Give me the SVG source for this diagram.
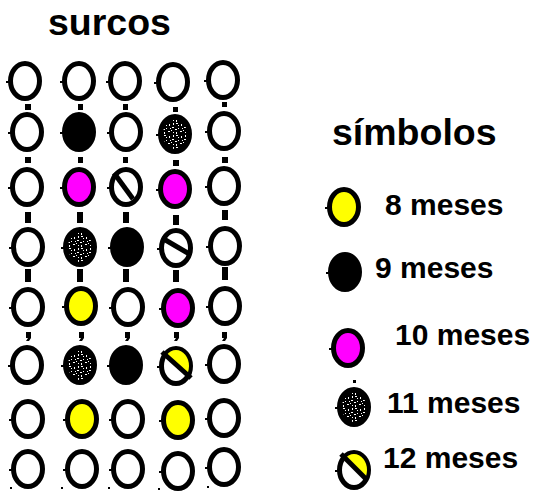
<svg xmlns="http://www.w3.org/2000/svg" xmlns:xlink="http://www.w3.org/1999/xlink" width="541" height="491" viewBox="0 0 541 491">
<style>
.t{font-family:"Liberation Sans",Arial,sans-serif;font-weight:bold;fill:#000}
.ttl{font-size:37.5px}
.lg{font-size:30px}
.cn{fill:#000}
.sl{stroke:#000;stroke-width:5;stroke-linecap:butt}
</style>
<defs>
<g id="ov">
<ellipse cx="0" cy="0" rx="14.5" ry="17.5" stroke="#000" stroke-width="5"/>
<rect x="-19" y="0" width="3" height="2" fill="#000"/>
</g>
<clipPath id="cp"><ellipse cx="0" cy="0" rx="13" ry="16"/></clipPath>
<pattern id="spk" patternUnits="userSpaceOnUse" width="12" height="12">
<rect width="12" height="12" fill="#000"/>
<rect x="1" y="1" width="2" height="1" fill="#fff"/>
<rect x="6" y="2" width="1" height="2" fill="#fff"/>
<rect x="9" y="5" width="2" height="1" fill="#fff"/>
<rect x="3" y="6" width="1" height="1" fill="#fff"/>
<rect x="5" y="9" width="2" height="1" fill="#fff"/>
<rect x="10" y="10" width="1" height="1" fill="#fff"/>
<rect x="1" y="10" width="1" height="2" fill="#fff"/>
<rect x="7" y="6" width="1" height="1" fill="#fff"/>
<rect x="3" y="3" width="1" height="1" fill="#fff"/>
<rect x="10" y="1" width="1" height="2" fill="#fff"/>
<rect x="0" y="7" width="2" height="1" fill="#fff"/>
<rect x="8" y="8" width="1" height="1" fill="#fff"/>
</pattern>
<g id="s11">
<use xlink:href="#ov" fill="url(#spk)"/>
</g>
<g id="s12y">
<use xlink:href="#ov" fill="#fff"/>
<g clip-path="url(#cp)">
<polygon points="-14,-14 14,-22 14,12" fill="#ffff00"/>
</g>
</g>
</defs>

<text class="t ttl" x="48" y="35">surcos</text>
<text class="t" style="font-size:37.5px" x="332" y="145">símbolos</text>

<g id="connectors">
<rect class="cn" x="25" y="104" width="6" height="6"/>
<rect class="cn" x="78" y="104" width="5" height="6"/>
<rect class="cn" x="123" y="104" width="5" height="6"/>
<rect class="cn" x="173" y="107" width="5" height="5"/>
<rect class="cn" x="222" y="102" width="5" height="5"/>
<rect class="cn" x="25" y="157" width="6" height="6"/>
<rect class="cn" x="78" y="157" width="5" height="6"/>
<rect class="cn" x="123" y="157" width="5" height="6"/>
<rect class="cn" x="173" y="160" width="6" height="6"/>
<rect class="cn" x="222" y="157" width="6" height="6"/>
<rect class="cn" x="25" y="212" width="6" height="11"/>
<rect class="cn" x="77" y="212" width="6" height="11"/>
<rect class="cn" x="123" y="212" width="6" height="11"/>
<rect class="cn" x="173" y="215" width="6" height="10"/>
<rect class="cn" x="222" y="210" width="6" height="10"/>
<rect class="cn" x="25" y="269" width="6" height="13"/>
<rect class="cn" x="77" y="269" width="6" height="13"/>
<rect class="cn" x="123" y="269" width="6" height="13"/>
<rect class="cn" x="173" y="270" width="6" height="12"/>
<rect class="cn" x="222" y="267" width="6" height="13"/>
<path class="cn" d="M26 332h5v6l-2 3h-3l2-3h-2z"/>
<path class="cn" d="M79 332h5v6l-2 3h-3l2-3h-2z"/>
<path class="cn" d="M125 332h5v6l-2 3h-3l2-3h-2z"/>
<path class="cn" d="M174 332h5v6l-2 3h-3l2-3h-2z"/>
<path class="cn" d="M222 332h5v6l-2 3h-3l2-3h-2z"/>
<rect class="cn" x="10" y="487" width="2" height="2"/>
<rect class="cn" x="61" y="487" width="2" height="2"/>
<rect class="cn" x="108" y="487" width="2" height="2"/>
<rect class="cn" x="158" y="488" width="2" height="2"/>
<rect class="cn" x="207" y="486" width="2" height="2"/>
</g>

<g id="r1c1"><use xlink:href="#ov" x="25" y="81" fill="#fff"/></g>
<g id="r1c2"><use xlink:href="#ov" x="79" y="81" fill="#fff"/></g>
<g id="r1c3"><use xlink:href="#ov" x="125" y="81" fill="#fff"/></g>
<g id="r1c4"><use xlink:href="#ov" x="173" y="82" fill="#fff"/></g>
<g id="r1c5"><use xlink:href="#ov" x="223" y="80" fill="#fff"/></g>
<g id="r2c1"><use xlink:href="#ov" x="27" y="132" fill="#fff"/></g>
<g id="r2c2"><use xlink:href="#ov" x="79" y="132" fill="#000"/></g>
<g id="r2c3"><use xlink:href="#ov" x="126" y="132" fill="#fff"/></g>
<g id="r2c4"><use xlink:href="#s11" x="175" y="134"/></g>
<g id="r2c5"><use xlink:href="#ov" x="224" y="131" fill="#fff"/></g>
<g id="r3c1"><use xlink:href="#ov" x="27" y="187" fill="#fff"/></g>
<g id="r3c2"><use xlink:href="#ov" x="79" y="187" fill="#ff00ff"/></g>
<g id="r3c3"><use xlink:href="#ov" x="126" y="187" fill="#fff"/><line class="sl" x1="114" y1="173" x2="133" y2="199"/></g>
<g id="r3c4"><use xlink:href="#ov" x="175" y="189" fill="#ff00ff"/></g>
<g id="r3c5"><use xlink:href="#ov" x="224" y="186" fill="#fff"/></g>
<g id="r4c1"><use xlink:href="#ov" x="28" y="247" fill="#fff"/></g>
<g id="r4c2"><use xlink:href="#s11" x="80" y="247"/></g>
<g id="r4c3"><use xlink:href="#ov" x="127" y="247" fill="#000"/></g>
<g id="r4c4"><use xlink:href="#ov" x="176" y="248" fill="#fff"/><line class="sl" x1="162" y1="238" x2="191" y2="255"/></g>
<g id="r4c5"><use xlink:href="#ov" x="225" y="246" fill="#fff"/></g>
<g id="r5c1"><use xlink:href="#ov" x="28" y="307" fill="#fff"/></g>
<g id="r5c2"><use xlink:href="#ov" x="81" y="306" fill="#ffff00"/></g>
<g id="r5c3"><use xlink:href="#ov" x="128" y="307" fill="#fff"/></g>
<g id="r5c4"><use xlink:href="#ov" x="178" y="308" fill="#ff00ff"/></g>
<g id="r5c5"><use xlink:href="#ov" x="225" y="306" fill="#fff"/></g>
<g id="r6c1"><use xlink:href="#ov" x="27" y="365" fill="#fff"/></g>
<g id="r6c2"><use xlink:href="#s11" x="80" y="365"/></g>
<g id="r6c3"><use xlink:href="#ov" x="126" y="365" fill="#000"/></g>
<g id="r6c4"><use xlink:href="#s12y" x="176" y="366"/><line class="sl" x1="162" y1="352" x2="191" y2="378"/></g>
<g id="r6c5"><use xlink:href="#ov" x="224" y="364" fill="#fff"/></g>
<g id="r7c1"><use xlink:href="#ov" x="28" y="419" fill="#fff"/></g>
<g id="r7c2"><use xlink:href="#ov" x="82" y="419" fill="#ffff00"/></g>
<g id="r7c3"><use xlink:href="#ov" x="128" y="419" fill="#fff"/></g>
<g id="r7c4"><use xlink:href="#ov" x="178" y="420" fill="#ffff00"/></g>
<g id="r7c5"><use xlink:href="#ov" x="224" y="418" fill="#fff"/></g>
<g id="r8c1"><use xlink:href="#ov" x="28" y="469" fill="#fff"/></g>
<g id="r8c2"><use xlink:href="#ov" x="82" y="469" fill="#fff"/></g>
<g id="r8c3"><use xlink:href="#ov" x="128" y="469" fill="#fff"/></g>
<g id="r8c4"><use xlink:href="#ov" x="178" y="471" fill="#fff"/></g>
<g id="r8c5"><use xlink:href="#ov" x="224" y="467" fill="#fff"/></g>

<g id="leg8"><use xlink:href="#ov" x="344" y="207" fill="#ffff00"/><text class="t lg" x="385" y="215">8 meses</text></g>
<g id="leg9"><use xlink:href="#ov" x="345" y="272" fill="#000"/><text class="t lg" x="375" y="278">9 meses</text></g>
<g id="leg10"><use xlink:href="#ov" x="348" y="348" fill="#ff00ff"/><text class="t lg" x="395" y="345">10 meses</text></g>
<g id="leg11"><rect x="353" y="380" width="3" height="3" fill="#000"/><use xlink:href="#s11" x="354" y="407"/><text class="t lg" x="387" y="413">11 meses</text></g>
<g id="leg12"><use xlink:href="#s12y" x="354" y="470"/><line class="sl" x1="341" y1="454" x2="367" y2="480"/><text class="t lg" x="383" y="468">12 meses</text></g>
</svg>
